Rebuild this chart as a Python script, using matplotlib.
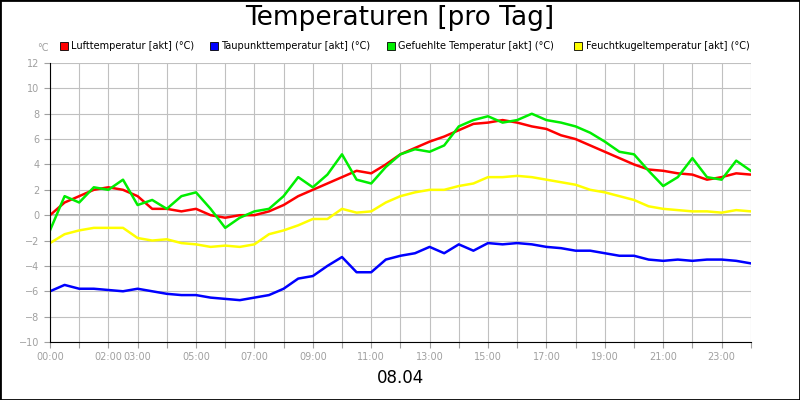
import numpy as np
import matplotlib.pyplot as plt
from matplotlib.patches import Rectangle

# half-hour steps from 00:00 to 24:00
hours = np.arange(0, 24.5, 0.5)

luft = [0.0, 1.0, 1.5, 2.0, 2.2, 2.0, 1.5, 0.5, 0.5, 0.3, 0.5, 0.0, -0.2, 0.0, 0.0, 0.3,
        0.8, 1.5, 2.0, 2.5, 3.0, 3.5, 3.3, 4.0, 4.8, 5.3, 5.8, 6.2, 6.7, 7.2, 7.3, 7.5,
        7.3, 7.0, 6.8, 6.3, 6.0, 5.5, 5.0, 4.5, 4.0, 3.6, 3.5, 3.3, 3.2, 2.8, 3.0, 3.3, 3.2]
taupunkt = [-6.0, -5.5, -5.8, -5.8, -5.9, -6.0, -5.8, -6.0, -6.2, -6.3, -6.3, -6.5, -6.6,
            -6.7, -6.5, -6.3, -5.8, -5.0, -4.8, -4.0, -3.3, -4.5, -4.5, -3.5, -3.2, -3.0,
            -2.5, -3.0, -2.3, -2.8, -2.2, -2.3, -2.2, -2.3, -2.5, -2.6, -2.8, -2.8, -3.0,
            -3.2, -3.2, -3.5, -3.6, -3.5, -3.6, -3.5, -3.5, -3.6, -3.8]
gefuehlt = [-1.2, 1.5, 1.0, 2.2, 2.0, 2.8, 0.8, 1.2, 0.5, 1.5, 1.8, 0.5, -1.0, -0.2, 0.3,
            0.5, 1.5, 3.0, 2.2, 3.2, 4.8, 2.8, 2.5, 3.8, 4.8, 5.2, 5.0, 5.5, 7.0, 7.5, 7.8,
            7.3, 7.5, 8.0, 7.5, 7.3, 7.0, 6.5, 5.8, 5.0, 4.8, 3.5, 2.3, 3.0, 4.5, 3.0, 2.8,
            4.3, 3.5]
feuchtkugel = [-2.2, -1.5, -1.2, -1.0, -1.0, -1.0, -1.8, -2.0, -1.9, -2.2, -2.3, -2.5, -2.4,
               -2.5, -2.3, -1.5, -1.2, -0.8, -0.3, -0.3, 0.5, 0.2, 0.3, 1.0, 1.5, 1.8, 2.0,
               2.0, 2.3, 2.5, 3.0, 3.0, 3.1, 3.0, 2.8, 2.6, 2.4, 2.0, 1.8, 1.5, 1.2, 0.7, 0.5,
               0.4, 0.3, 0.3, 0.2, 0.4, 0.3]

names = ["Lufttemperatur [akt] (°C)", "Taupunkttemperatur [akt] (°C)",
         "Gefuehlte Temperatur [akt] (°C)", "Feuchtkugeltemperatur [akt] (°C)"]
colors = ["#ff0000", "#0000ff", "#00ee00", "#ffff00"]
tick_hours = [0, 2, 3, 5, 7, 9, 11, 13, 15, 17, 19, 21, 23]

fig = plt.figure(figsize=(8, 4), dpi=100)
fig.patches.append(Rectangle((0, 0), 1, 1, transform=fig.transFigure, fill=False,
                             edgecolor="black", linewidth=2))
ax = fig.add_axes([0.0625, 0.145, 0.876, 0.6975])

for vals, c in zip([luft, taupunkt, gefuehlt, feuchtkugel], colors):
    ax.plot(hours, vals, color=c, linewidth=1.8)
ax.axhline(0, color="#999999", linewidth=1.2, zorder=0)

ax.set_xlim(0, 24)
ax.set_ylim(-10, 12)
ax.set_xticks(range(25))
ax.set_xticklabels([f"{h:02d}:00" if h in tick_hours else "" for h in range(25)])
ax.set_yticks(range(-10, 13, 2))
ax.grid(True, color="#c0c0c0", linewidth=0.8)
ax.set_axisbelow(True)
ax.tick_params(colors="#a0a0a0", labelsize=7, length=4, labelcolor="#a0a0a0")
for s in ["top", "right"]:
    ax.spines[s].set_visible(False)
for s in ["left", "bottom"]:
    ax.spines[s].set_color("black")

fig.text(0.5, 0.955, "Temperaturen [pro Tag]", ha="center", va="center", fontsize=19)
fig.text(0.5, 0.055, "08.04", ha="center", va="center", fontsize=12)
fig.text(0.047, 0.88, "°C", ha="left", va="center", fontsize=7, color="#a0a0a0")

xs = [0.075, 0.262, 0.484, 0.718]
for x, n, c in zip(xs, names, colors):
    fig.patches.append(Rectangle((x, 0.875), 0.01, 0.02, transform=fig.transFigure,
                                 facecolor=c, edgecolor="black", linewidth=0.6))
    fig.text(x + 0.014, 0.885, n, ha="left", va="center", fontsize=7)

fig.savefig("out.png", dpi=100)
